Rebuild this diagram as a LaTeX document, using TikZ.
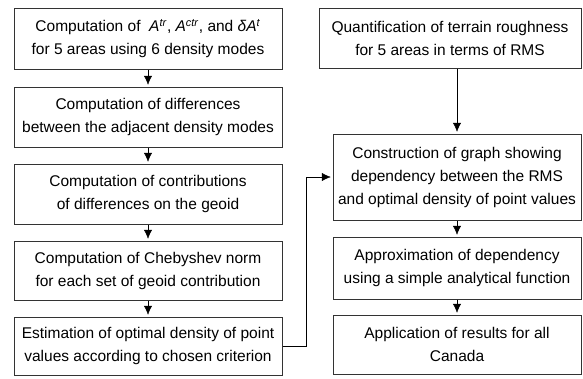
\documentclass[tikz,border=0pt]{standalone}
\usepackage{fontspec}
\setmainfont{Liberation Sans}
\usetikzlibrary{arrows.meta}

\begin{document}
\begin{tikzpicture}[x=1pt, y=-1pt]
\tikzset{ >={Latex[length=11pt,width=10pt]}, line width=1.3pt,
  box/.style={draw=black!80, align=center, inner sep=0pt,
    font=\fontsize{15.5}{23}\selectfont},
}
\useasboundingbox [fill=white] (0,0) rectangle (583,378);

% left column
\node [box, minimum width=268, minimum height=61] (CA)  at (148,38.5) {Computation of\ \ \textit{A}\textsuperscript{\textit{tr}}, \textit{A}\textsuperscript{\textit{ctr}}, and \textit{δA}\textsuperscript{\textit{t}}\\for 5 areas using 6 density modes};
\node [box, minimum width=268, minimum height=60] (DIF) at (148,117)  {Computation of differences\\between the adjacent density modes};
\node [box, minimum width=268, minimum height=60] (CON) at (148,194)  {Computation of contributions\\of differences on the geoid};
\node [box, minimum width=268, minimum height=59] (CHE) at (148,270.5) {Computation of\ Chebyshev norm\\for each set of geoid contribution};
\node [box, minimum width=268, minimum height=58] (EST) at (148,346)  {Estimation of optimal density of point\\values according to chosen criterion};

% right column
\node [box, minimum width=262, minimum height=60] (RMS) at (450,38)   {Quantification of terrain roughness\\for 5 areas in terms of RMS};
\node [box, minimum width=248, minimum height=86] (GRA) at (457,177)  {Construction of graph showing\\dependency between the RMS\\and optimal density of point values};
\node [box, minimum width=248, minimum height=62] (APP) at (457,268)  {Approximation of dependency\\using a simple analytical function};
\node [box, minimum width=248, minimum height=59] (RES) at (457,344.5) {Application of results for all\\Canada};

\draw [->] (CA)  -- (DIF);
\draw [->] (DIF) -- (CON);
\draw [->] (CON) -- (CHE);
\draw [->] (CHE) -- (EST);

\draw [->] (RMS.south -| GRA.north) -- (GRA.north);
\draw [->] (GRA) -- (APP);
\draw [->] (APP) -- (RES);

\draw [->] (EST.east) -- ++(24,0) |- (GRA.west);

\end{tikzpicture}
\end{document}
